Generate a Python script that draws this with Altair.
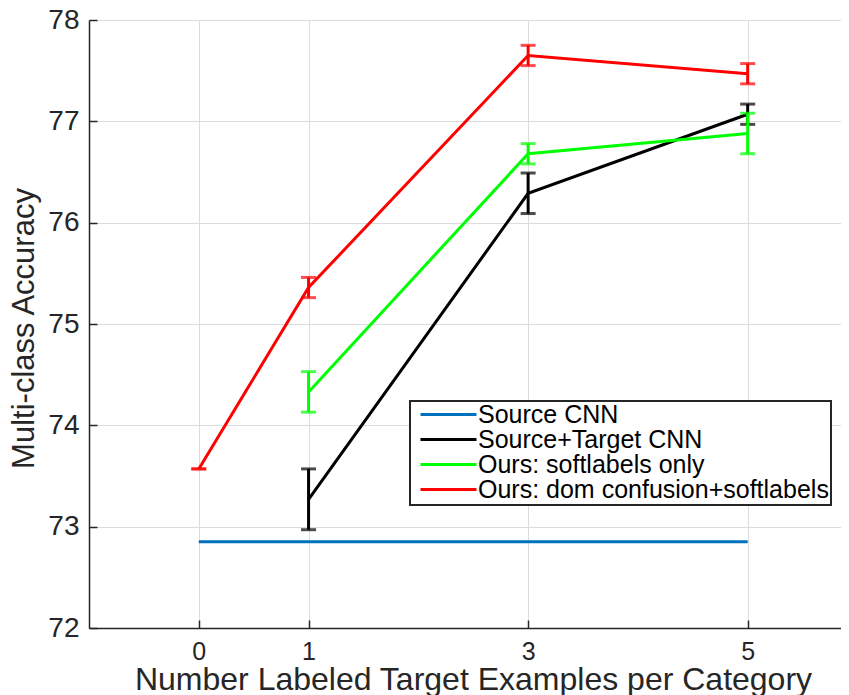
import altair as alt
import pandas as pd

series = ["Source CNN", "Source+Target CNN", "Ours: softlabels only", "Ours: dom confusion+softlabels"]
colors = ["#0072BD", "#000000", "#00FF00", "#FF0000"]

blue_x = [0, 1, 3, 5]
blue_y = [72.85, 72.85, 72.85, 72.85]

black_x = [1, 3, 5]
black_y = [73.27, 76.29, 77.07]
black_err = [0.30, 0.20, 0.10]

green_x = [1, 3, 5]
green_y = [74.33, 76.68, 76.88]
green_err = [0.20, 0.10, 0.20]

red_x = [0, 1, 3, 5]
red_y = [73.57, 75.36, 77.65, 77.47]
red_err = [0.0, 0.10, 0.10, 0.10]

x_ticks = [0, 1, 3, 5]
y_ticks = [72, 73, 74, 75, 76, 77, 78]

FONT = "Liberation Sans"

color_scale = alt.Scale(domain=series, range=colors)

x_enc = alt.X(
    "x:Q",
    scale=alt.Scale(domain=[-1, 5.85], nice=False, zero=False),
    axis=alt.Axis(values=x_ticks, format="d", title="Number Labeled Target Examples per Category",
                  labelFontSize=25, titleFontSize=32, labelPadding=19, titlePadding=0,
                  titleX=384),
)
y_axis = alt.Axis(values=y_ticks, format="d", title="Multi-class Accuracy",
                  labelFontSize=28, titleFontSize=31, labelPadding=18, titlePadding=7,
                  titleY=308)
y_scale = alt.Scale(domain=[72, 78], nice=False, zero=False)


def frame(name, xs, ys, errs=None):
    d = pd.DataFrame({"series": name, "x": xs, "y": ys})
    if errs is not None:
        d["lo"] = [v - e for v, e in zip(ys, errs)]
        d["hi"] = [v + e for v, e in zip(ys, errs)]
    return d


legend = alt.Legend(
    title=None, orient="none", legendX=321, legendY=381,
    symbolType="stroke", symbolSize=3136, symbolStrokeWidth=3,
    labelFontSize=25, labelFont=FONT, labelColor="black", labelLimit=0,
    clipHeight=23, rowPadding=-3, padding=2, symbolOffset=7, labelOffset=0,
    strokeColor="#262626", fillColor="white", cornerRadius=0,
)


def series_layers(name, xs, ys, errs=None, first=False):
    d = frame(name, xs, ys, errs)
    base = alt.Chart(d)
    col = alt.Color("series:N", scale=color_scale, legend=legend if first else None)
    layers = [
        base.mark_line(strokeWidth=3).encode(
            x=x_enc, y=alt.Y("y:Q", scale=y_scale, axis=y_axis), color=col
        )
    ]
    if errs is not None:
        nc = alt.Color("series:N", scale=color_scale, legend=None)
        layers.append(base.mark_rule(strokeWidth=3).encode(x="x:Q", y="lo:Q", y2="hi:Q", color=nc))
        layers.append(base.mark_tick(orient="horizontal", size=15, thickness=3).encode(x="x:Q", y="lo:Q", color=nc))
        layers.append(base.mark_tick(orient="horizontal", size=15, thickness=3).encode(x="x:Q", y="hi:Q", color=nc))
    return layers


all_layers = []
all_layers += series_layers(series[0], blue_x, blue_y, None, first=True)
all_layers += series_layers(series[1], black_x, black_y, black_err)
all_layers += series_layers(series[2], green_x, green_y, green_err)
all_layers += series_layers(series[3], red_x, red_y, red_err)

chart = (
    alt.layer(*all_layers)
    .properties(
        width=752, height=608,
        autosize=alt.AutoSizeParams(type="none"),
        padding={"left": 81, "top": 12, "right": 0, "bottom": 76},
        background="white",
    )
    .configure_view(stroke=None)
    .configure_legend(strokeWidth=2)
    .configure_axis(
        domainColor="#262626", domainWidth=1.5,
        tickColor="#262626", tickWidth=1.5, tickSize={"expr": "-8"},
        gridColor="#dcdcdc", gridWidth=1,
        labelFont=FONT, labelColor="#262626",
        titleFont=FONT, titleColor="#262626", titleFontWeight="normal",
    )
)

chart.save("out.html", embed_options={"renderer": "svg", "actions": False})
